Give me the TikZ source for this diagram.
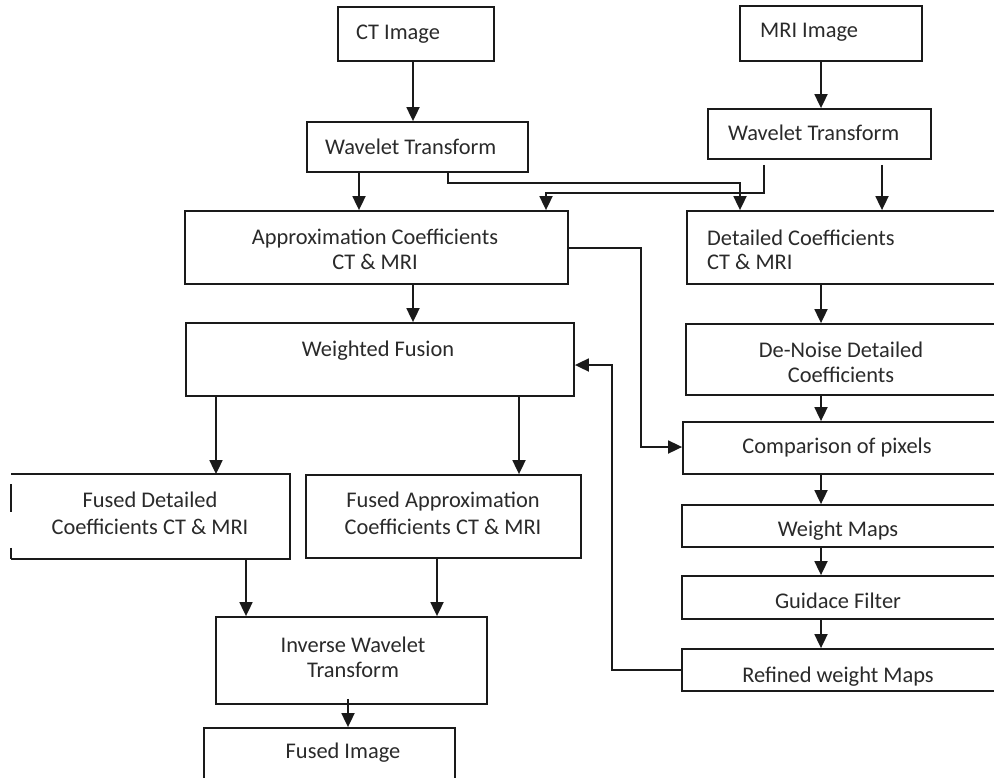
\documentclass[tikz,border=0pt]{standalone}
\usepackage{fontspec}
\setmainfont{Carlito}
\usetikzlibrary{arrows.meta,calc}
\definecolor{ink}{HTML}{1A1A1A}
\definecolor{txt}{HTML}{2A2A2A}
\tikzset{
  box/.style={draw=ink,line width=1.8pt,inner sep=0pt,fill=none},
  lbl/.style={text=txt,inner sep=0pt,font=\fontsize{22.4}{26}\selectfont},
  lblw/.style={lbl,anchor=base west},
  lblc/.style={lbl,anchor=base},
  conn/.style={draw=ink,line width=1.8pt},
  arr/.style={conn,-{Triangle[width=13pt,length=14pt]}}
}
\begin{document}
\begin{tikzpicture}[x=1pt,y=-1pt]
\useasboundingbox (0,0) rectangle (994,777);
\fill[white] (0,0) rectangle (994,777);
\clip (0,0) rectangle (994,777);
% boxes
\node[box,minimum width=156pt,minimum height=54pt] (ct) at (416,34) {};
\node[box,minimum width=182pt,minimum height=55pt] (mri) at (831,33.5) {};
\node[box,minimum width=221pt,minimum height=50pt] (ctw) at (417.5,147) {};
\node[box,minimum width=223pt,minimum height=50pt] (mriw) at (819.5,134) {};
\node[box,minimum width=383pt,minimum height=73pt] (app) at (376.5,247.5) {};
\node[box,minimum width=323pt,minimum height=73pt] (det) at (848.5,247.5) {};
\node[box,minimum width=388pt,minimum height=73pt] (wf) at (380,359.5) {};
\node[box,minimum width=324pt,minimum height=71pt] (dn) at (848,359.5) {};
\node[box,minimum width=327pt,minimum height=52pt] (cmp) at (846.5,448) {};
\node[box,minimum width=328pt,minimum height=42pt] (wm) at (846,526) {};
\node[box,minimum width=328pt,minimum height=43pt] (gf) at (846,597.5) {};
\node[box,minimum width=328pt,minimum height=42pt] (rf) at (846,670) {};
\node[box,draw=none,minimum width=277pt,minimum height=83pt] (fd) at (150.5,516.5) {};
\draw[conn] (fd.north west) -- (fd.north east) -- (fd.south east) -- (fd.south west);
\draw[conn] ([yshift=-10pt]fd.north west) -- ([yshift=-38pt]fd.north west);
\draw[conn] ([yshift=11pt]fd.south west) -- (fd.south west);
\node[box,minimum width=275pt,minimum height=83pt] (fa) at (443.5,516.5) {};
\node[box,minimum width=271pt,minimum height=87pt] (inv) at (351.5,660.5) {};
\node[box,minimum width=251pt,minimum height=72pt] (fi) at (329.5,764) {};
% labels
\node[lblw] (ctT) at (356,39) {CT Image};
\node[lblw] (mriT) at (760,37) {MRI Image};
\node[lblw] (ctwT) at (325,154) {Wavelet Transform};
\node[lblw] (mriwT) at (728,140) {Wavelet Transform};
\node[lblc] (appT1) at (375,244) {Approximation Coefficients};
\node[lblc] (appT2) at (375,269) {CT \& MRI};
\node[lblw] (detT1) at (707,245) {Detailed Coefficients};
\node[lblw] (detT2) at (707,269) {CT \& MRI};
\node[lblc] (wfT) at (378,356) {Weighted Fusion};
\node[lblc] (dnT1) at (841,357) {De-Noise Detailed};
\node[lblc] (dnT2) at (841,382) {Coefficients};
\node[lblc] (cmpT) at (837,453) {Comparison of pixels};
\node[lblc] (wmT) at (838,536) {Weight Maps};
\node[lblc] (gfT) at (838,608) {Guidace Filter};
\node[lblc] (rfT) at (838,682) {Refined weight Maps};
\node[lblc] (fdT1) at (150,507) {Fused Detailed};
\node[lblc] (fdT2) at (150,534) {Coefficients CT \& MRI};
\node[lblc] (faT1) at (443,507) {Fused Approximation};
\node[lblc] (faT2) at (443,534) {Coefficients CT \& MRI};
\node[lblc] (invT1) at (353,652) {Inverse Wavelet};
\node[lblc] (invT2) at (353,677) {Transform};
\node[lblc] (fiT) at (343,758) {Fused Image};
% guide coordinates
\coordinate (x413) at (413,0);
\coordinate (x821) at (821,0);
\coordinate (x359) at (359,0);
\coordinate (x448) at (448,183);
\coordinate (x740) at (740,183);
\coordinate (x764) at (764,193);
\coordinate (x546) at (546,193);
\coordinate (x882) at (882,0);
\coordinate (x641) at (641,248);
\coordinate (x641b) at (641,447);
\coordinate (x612) at (612,670);
\coordinate (x612b) at (612,365);
\coordinate (x216) at (216,0);
\coordinate (x519) at (519,0);
\coordinate (x246) at (246,0);
\coordinate (x437) at (437,0);
\coordinate (x348) at (348,0);
% connectors
\draw[arr] (ct.south -| x413) -- (ctw.north -| x413);
\draw[arr] (mri.south -| x821) -- (mriw.north -| x821);
\draw[arr] (ctw.south -| x359) -- (app.north -| x359);
\draw[arr] (ctw.south -| x448) -- (x448) -- (x740) -- (det.north -| x740);
\draw[arr] ([yshift=-5pt]mriw.south -| x764) -- (x764) -- (x546) -- (app.north -| x546);
\draw[arr] ([yshift=-5pt]mriw.south -| x882) -- (det.north -| x882);
\draw[arr] (app.south -| x413) -- (wf.north -| x413);
\draw[arr] (app.east |- x641) -- (x641) -- (x641b) -- (cmp.west |- x641b);
\draw[arr] (det.south -| x821) -- (dn.north -| x821);
\draw[arr] (dn.south -| x821) -- (cmp.north -| x821);
\draw[arr] (cmp.south -| x821) -- (wm.north -| x821);
\draw[arr] (wm.south -| x821) -- (gf.north -| x821);
\draw[arr] (gf.south -| x821) -- (rf.north -| x821);
\draw[arr] (rf.west |- x612) -- (x612) -- (x612b) -- (wf.east |- x612b);
\draw[arr] (wf.south -| x216) -- (fd.north -| x216);
\draw[arr] (wf.south -| x519) -- (fa.north -| x519);
\draw[arr] (fd.south -| x246) -- (inv.north -| x246);
\draw[arr] (fa.south -| x437) -- (inv.north -| x437);
\draw[arr] ([yshift=6pt]inv.south -| x348) -- (fi.north -| x348);
\end{tikzpicture}
\end{document}
